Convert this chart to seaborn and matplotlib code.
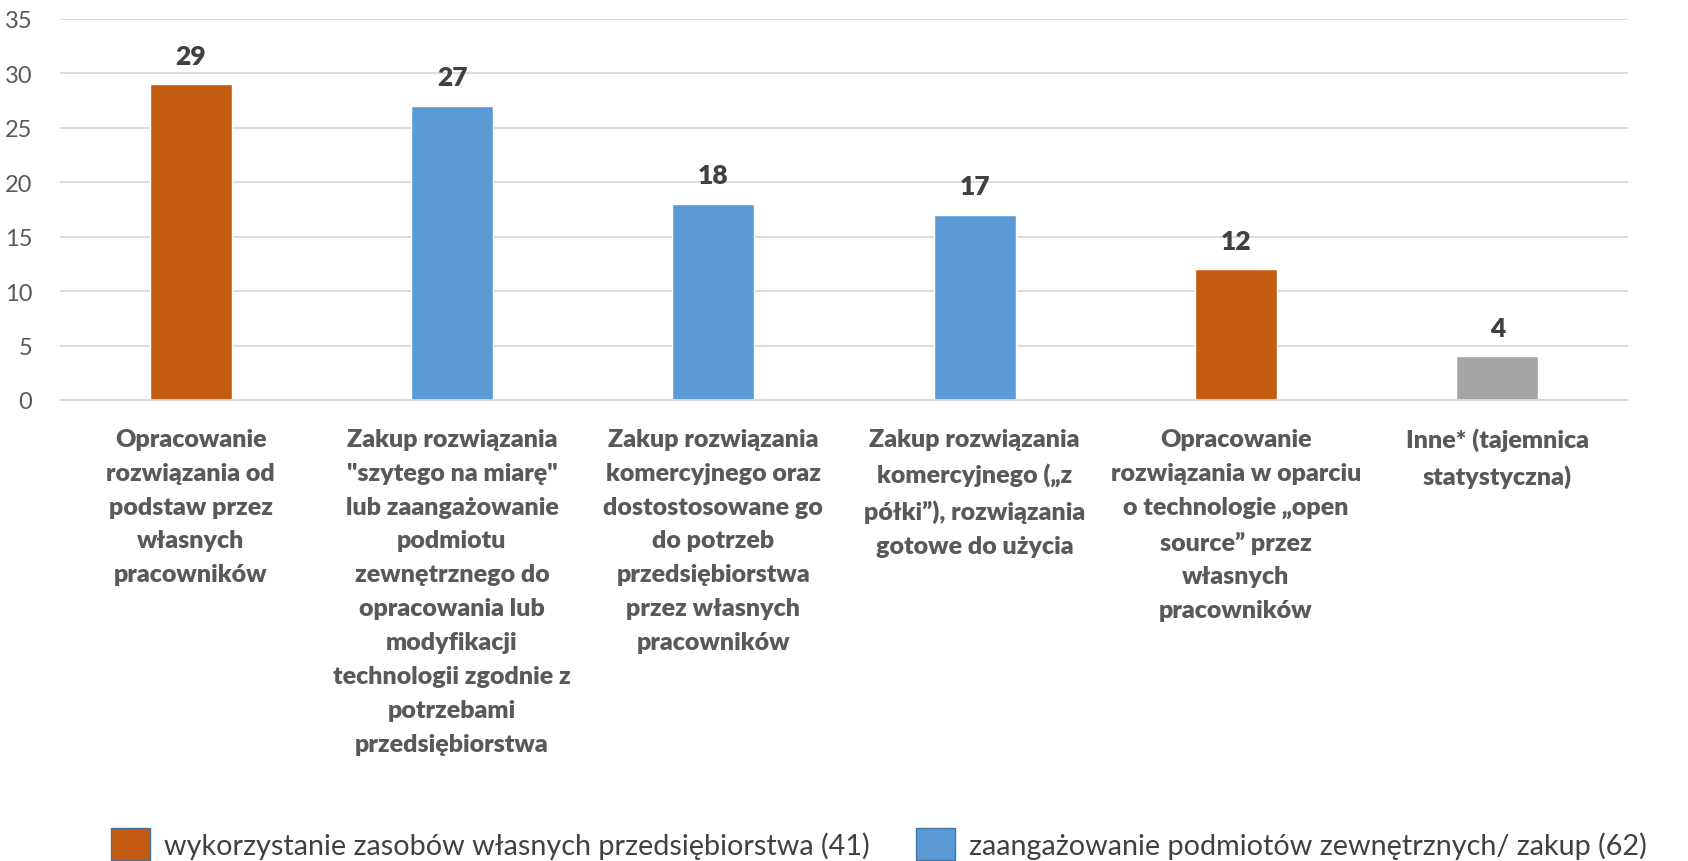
import matplotlib
matplotlib.use("Agg")
import matplotlib.pyplot as plt
from matplotlib.patches import Patch
import seaborn as sns
import pandas as pd

categories = [
    "Opracowanie\nrozwiązania od\npodstaw przez\nwłasnych\npracowników",
    "Zakup rozwiązania\n\"szytego na miarę\"\nlub zaangażowanie\npodmiotu\nzewnętrznego do\nopracowania lub\nmodyfikacji\ntechnologii zgodnie z\npotrzebami\nprzedsiębiorstwa",
    "Zakup rozwiązania\nkomercyjnego oraz\ndostostosowane go\ndo potrzeb\nprzedsiębiorstwa\nprzez własnych\npracowników",
    "Zakup rozwiązania\nkomercyjnego („z\npółki”), rozwiązania\ngotowe do użycia",
    "Opracowanie\nrozwiązania w oparciu\no technologie „open\nsource” przez\nwłasnych\npracowników",
    "Inne* (tajemnica\nstatystyczna)",
]
values = [29, 27, 18, 17, 12, 4]
groups = ["own", "ext", "ext", "ext", "own", "other"]
group_labels = {
    "own": "wykorzystanie zasobów własnych przedsiębiorstwa (41)",
    "ext": "zaangażowanie podmiotów zewnętrznych/ zakup (62)",
}
palette = {"own": "#C55A11", "ext": "#5B9BD5", "other": "#A5A5A5"}

df = pd.DataFrame({"cat": categories, "val": values, "grp": groups})

sns.set_theme(style="white")
plt.rcParams["font.family"] = ["Lato", "DejaVu Sans"]

fig = plt.figure(figsize=(16.88, 8.62), dpi=100)
ax = fig.add_axes([60/1688, 1 - 401/862, 1568/1688, 381/862])

sns.barplot(data=df, x="cat", y="val", hue="grp", palette=palette,
            dodge=False, width=0.314, legend=False, ax=ax, saturation=1)

ax.set_ylim(0, 35)
ax.set_yticks(range(0, 36, 5))
ax.set_xlim(-0.5, len(categories) - 0.5)
ax.grid(axis="y", color="#D9D9D9", linewidth=1.3)
ax.set_axisbelow(True)
for s in ["top", "right", "left"]:
    ax.spines[s].set_visible(False)
ax.spines["bottom"].set_color("#D9D9D9")
ax.spines["bottom"].set_linewidth(1.3)
ax.set_xlabel("")
ax.set_ylabel("")
ax.tick_params(axis="y", length=0, pad=20, labelsize=17, labelcolor="#595959")
ax.tick_params(axis="x", length=0, pad=20, labelsize=18, labelcolor="#595959")
for lbl in ax.get_xticklabels():
    lbl.set_fontweight("heavy")
    lbl.set_linespacing(1.66)
    lbl.set_verticalalignment("top")

for cont in ax.containers:
    ax.bar_label(cont, fmt="%d", padding=12, fontsize=19, fontweight="heavy",
                 color="#404040")

handles = [Patch(facecolor=palette[g], edgecolor="#41719C", linewidth=1,
                 label=group_labels[g]) for g in ["own", "ext"]]
fig.legend(handles=handles, loc="center left",
           bbox_to_anchor=(111/1688, 17/862), ncol=2, frameon=False,
           fontsize=20.7, handlelength=1.35, handleheight=1.35,
           handletextpad=0.5, columnspacing=1.6, labelcolor="#404040",
           borderaxespad=0, borderpad=0)

fig.savefig("out.png", dpi=100)
